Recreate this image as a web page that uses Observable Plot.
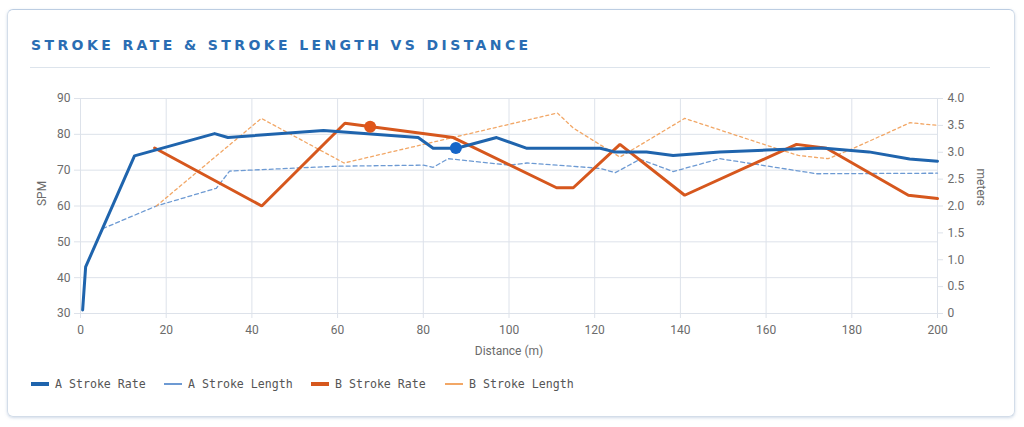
<!DOCTYPE html>
<html><head><meta charset="utf-8">
<script src="https://cdn.jsdelivr.net/npm/d3@7"></script>
<script src="https://cdn.jsdelivr.net/npm/@observablehq/plot@0.6"></script>
<style>
html,body{margin:0;padding:0;background:#fff;width:1024px;height:427px;overflow:hidden;font-family:Roboto,"Liberation Sans",sans-serif;}
#card{position:absolute;left:7px;top:9px;width:1008px;height:408px;border:1.5px solid #d3dde9;border-top-color:#bccde2;border-radius:6px;box-shadow:0 1px 3px rgba(120,150,190,0.35);box-sizing:border-box;}
#title{position:absolute;left:31px;top:37px;font:bold 14px "DejaVu Sans";letter-spacing:3.4px;color:#2a6db3;white-space:nowrap;}
#sep{position:absolute;left:30px;top:67px;width:960px;height:1px;background:#dde4ec;}
#chart{position:absolute;left:0;top:80px;}
.lg{position:absolute;top:376px;height:16px;display:flex;align-items:center;font:11.6px "DejaVu Sans Mono";color:#555;white-space:nowrap;}
.lg i{display:inline-block;width:18px;margin-right:6px;}
</style></head>
<body>
<div id="card"></div>
<div id="title">STROKE RATE &amp; STROKE LENGTH VS DISTANCE</div>
<div id="sep"></div>
<div id="chart"></div>
<div id="legend"></div>
<script>
// ---- data ----
const xTicks = [0, 20, 40, 60, 80, 100, 120, 140, 160, 180, 200];
const yTicks = [30, 40, 50, 60, 70, 80, 90];
const meterTicks = [0, 0.5, 1, 1.5, 2, 2.5, 3, 3.5, 4];

// A stroke rate (SPM)
const aRateDist = [0.5, 1.2, 12.6, 31.3, 34.4, 56.7, 78.8, 82.3, 87.8, 97.1, 104.2, 121.3, 124.6, 132.1, 138.3, 149.2, 160, 173, 184, 193.5, 200];
const aRate     = [31, 43, 74, 80.2, 79.1, 81.1, 79.1, 76.1, 76.1, 79.1, 76.1, 76.1, 75.1, 75.1, 74.1, 75.1, 75.6, 76.2, 75.1, 73.1, 72.5];

// A stroke length (meters)
const aLenDist = [5.2, 17.7, 31.7, 34.8, 59.8, 80.0, 82.3, 85.8, 100.2, 104.2, 121.3, 124.8, 130.6, 138.3, 149.2, 169.4, 171.7, 200];
const aLen     = [1.58, 2.0, 2.33, 2.65, 2.74, 2.76, 2.72, 2.88, 2.76, 2.8, 2.70, 2.62, 2.87, 2.64, 2.88, 2.63, 2.60, 2.61];

// B stroke rate (SPM)
const bRateDist = [17.3, 42.3, 61.7, 87.0, 111.1, 115.0, 125.9, 141.0, 167.1, 174.1, 193.2, 200];
const bRate     = [76.2, 60, 83.1, 79.1, 65.1, 65.1, 77.2, 63, 77.2, 76.1, 63, 62.1];

// B stroke length (meters)
const bLenDist = [17.7, 42.2, 61.5, 111.3, 115, 125.9, 141.0, 160.1, 167.5, 174.5, 180.3, 193.6, 200];
const bLen     = [2.0, 3.63, 2.8, 3.73, 3.45, 2.91, 3.63, 3.13, 2.94, 2.88, 3.07, 3.55, 3.5];

// highlighted points
const dotSeries = ["B", "A"];
const dotDist   = [67.6, 87.6];
const dotRate   = [82.1, 76.2];

// legend
const legendNames = ["A Stroke Rate", "A Stroke Length", "B Stroke Rate", "B Stroke Length"];

// ---- styles ----
const C = {aRate: "#1f64ad", aLen: "#6d9ad3", bRate: "#d6571d", bLen: "#f2a766", dotA: "#1565c8", dotB: "#e0561a"};
const toSPM = m => 30 + 15 * m; // right axis (0–4 m) shares the 30–90 SPM range

const rows = (xs, vs, f = v => v) => xs.map((d, i) => ({d, v: f(vs[i])}));
const A_rate = rows(aRateDist, aRate);
const A_len = rows(aLenDist, aLen, toSPM);
const B_rate = rows(bRateDist, bRate);
const B_len = rows(bLenDist, bLen, toSPM);
const dots = dotSeries.map((s, i) => ({s, d: dotDist[i], v: dotRate[i]}));

const grid = "#dde2ea", tickText = "#6b6b6b";
const chart = Plot.plot({
  width: 1024, height: 285,
  marginLeft: 80, marginRight: 87, marginTop: 18, marginBottom: 52,
  style: {fontFamily: "Roboto, 'Liberation Sans', sans-serif", fontSize: "12px", background: "transparent"},
  x: {domain: [0, 200]},
  y: {domain: [30, 90]},
  marks: [
    Plot.gridX(xTicks, {stroke: grid, strokeOpacity: 1}),
    Plot.gridY(yTicks, {stroke: grid, strokeOpacity: 1}),
    Plot.axisX({ticks: xTicks, tickSize: 5, tickPadding: 7, stroke: grid, fill: tickText, fontSize: 12, label: null}),
    Plot.axisY({ticks: yTicks, anchor: "left", tickSize: 6, tickPadding: 4, stroke: grid, fill: tickText, fontSize: 12, label: null}),
    Plot.axisY({ticks: meterTicks.map(toSPM), anchor: "right", tickSize: 5, tickPadding: 5, stroke: grid, fill: tickText, fontSize: 12, label: null,
      tickFormat: v => { const m = (v - 30) / 15; return m === 0 ? "0" : m.toFixed(1); }}),
    Plot.line(A_len, {x: "d", y: "v", stroke: C.aLen, strokeWidth: 1.3, strokeDasharray: "4,3"}),
    Plot.line(B_len, {x: "d", y: "v", stroke: C.bLen, strokeWidth: 1.3, strokeDasharray: "3,3"}),
    Plot.line(B_rate, {x: "d", y: "v", stroke: C.bRate, strokeWidth: 3, strokeLinejoin: "miter"}),
    Plot.line(A_rate, {x: "d", y: "v", stroke: C.aRate, strokeWidth: 3}),
    Plot.dot(dots, {x: "d", y: "v", r: 6, fill: d => d.s === "A" ? C.dotA : C.dotB, stroke: "none"}),
    Plot.text(["SPM"], {text: d => d, frameAnchor: "left", dx: -38, rotate: -90, fill: tickText, fontSize: 12}),
    Plot.text(["meters"], {text: d => d, frameAnchor: "right", dx: 43, rotate: 90, fill: tickText, fontSize: 12}),
    Plot.text(["Distance (m)"], {text: d => d, frameAnchor: "bottom", dy: 41, fill: tickText, fontSize: 12})
  ]
});
document.getElementById("chart").appendChild(chart);

// legend
const lgLeft = [31, 164, 311, 445];
const lgColor = [C.aRate, C.aLen, C.bRate, C.bLen];
const lgThick = [4, 2, 4, 2];
const lg = document.getElementById("legend");
legendNames.forEach((n, i) => {
  const el = document.createElement("div");
  el.className = "lg";
  el.style.left = lgLeft[i] + "px";
  el.innerHTML = `<i style="height:${lgThick[i]}px;background:${lgColor[i]}"></i>${n}`;
  lg.appendChild(el);
});
</script>
</body></html>
